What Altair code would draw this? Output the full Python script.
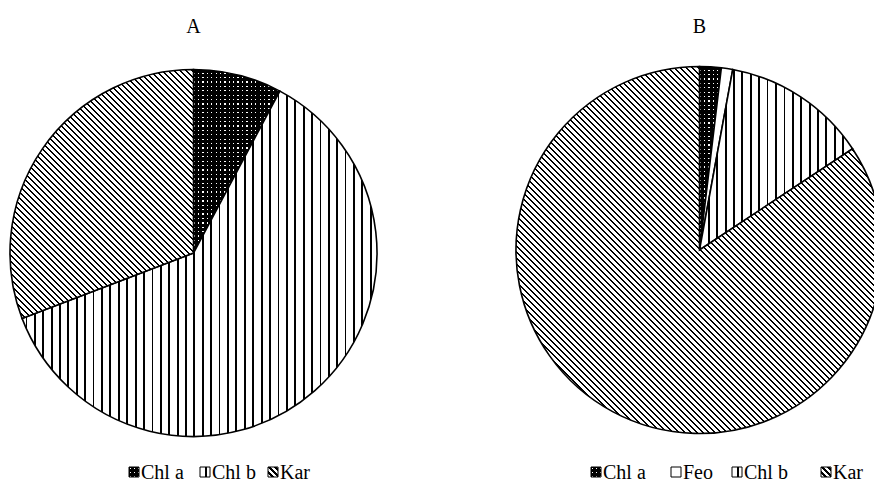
import math
import altair as alt
import pandas as pd

# ---------------- data ----------------
titles = ["A", "B"]
cats_a = ["Chl a", "Chl b", "Kar"]
vals_a = [7.8, 61.4, 30.8]
cats_b = ["Chl a", "Feo", "Chl b", "Kar"]
vals_b = [1.9, 1.0, 12.8, 84.3]

# ---------------- layout / style ----------------
FONT = "Liberation Serif"
W, H = 866, 481
R = 183.5
CENTERS = {"A": (185.5, 245.0), "B": (691.5, 242.0)}
TITLE_Y = 19
LEGEND_Y = 464
LEGEND_X = {"A": [126, 197, 265], "B": [588, 668, 729, 818]}

BLACK, WHITE, CLEAR = "#000000", "#ffffff", "rgba(0,0,0,0)"
VPER, VLINE = 8.4, 1.8      # vertical hatching
DPER, DLINE = 6.0, 2.4      # diagonal hatching (in x-y units)
GPER, GDOT = 4.4, 1.3       # dotted pattern grid


def band_stops(length, period, line, phase, c_line, c_bg):
    stops = [(0.0, c_bg)]
    k = math.floor((0 - phase) / period) - 1
    while True:
        a = phase + k * period
        if a > length:
            break
        b = a + line
        a2, b2 = max(a, 0.0), min(b, length)
        if b2 > a2:
            stops += [(a2, c_bg), (a2, c_line), (b2, c_line), (b2, c_bg)]
        k += 1
    stops.append((length, c_bg))
    return [{"offset": round(min(max(p / length, 0.0), 1.0), 5), "color": c}
            for p, c in stops]


def grad_vertical(bx, by, w, h, c_line=BLACK, c_bg=WHITE, period=VPER, line=VLINE):
    phase = (-bx) % period
    return {"gradient": "linear", "x1": 0, "y1": 0, "x2": 1, "y2": 0,
            "stops": band_stops(w, period, line, phase, c_line, c_bg)}


def grad_horizontal(bx, by, w, h, c_line=BLACK, c_bg=WHITE, period=GPER, line=GDOT):
    phase = (-by) % period
    return {"gradient": "linear", "x1": 0, "y1": 0, "x2": 0, "y2": 1,
            "stops": band_stops(h, period, line, phase, c_line, c_bg)}


def grad_diag(bx, by, w, h):
    c = (w + h) / (w * w + h * h)
    L = w + h
    phase = (h - bx + by) % DPER
    return {"gradient": "linear", "x1": 0, "y1": 1, "x2": c * w, "y2": 1 - c * h,
            "stops": band_stops(L, DPER, DLINE, phase, BLACK, WHITE)}


def fills_for(cat, bx, by, w, h):
    if cat == "Chl a":
        return [WHITE,
                grad_horizontal(bx, by, w, h, c_line=CLEAR, c_bg=BLACK),
                grad_vertical(bx, by, w, h, c_line=CLEAR, c_bg=BLACK, period=GPER, line=GDOT)]
    if cat == "Feo":
        return [WHITE]
    if cat == "Chl b":
        return [grad_vertical(bx, by, w, h)]
    return [grad_diag(bx, by, w, h)]


def sector_bbox(t0, t1, r):
    pts = [(0.0, 0.0), (r * math.sin(t0), -r * math.cos(t0)),
           (r * math.sin(t1), -r * math.cos(t1))]
    for q in range(5):
        t = q * math.pi / 2
        if t0 <= t <= t1:
            pts.append((r * math.sin(t), -r * math.cos(t)))
    xs = [p[0] for p in pts]
    ys = [p[1] for p in pts]
    return min(xs), min(ys), max(xs) - min(xs), max(ys) - min(ys)


def pie_layers(chart_id, cats, vals):
    cx, cy = CENTERS[chart_id]
    total = float(sum(vals))
    starts, ends, cum = [], [], 0.0
    for v in vals:
        starts.append(cum / total * 2 * math.pi)
        cum += v
        ends.append(cum / total * 2 * math.pi)
    df = pd.DataFrame({"cat": cats, "value": vals, "start": starts, "end": ends})
    layers = []
    for cat, t0, t1 in zip(cats, starts, ends):
        bx, by, w, h = sector_bbox(t0, t1, R)
        fills = fills_for(cat, bx, by, w, h)
        base = alt.Chart(df).transform_filter(alt.datum.cat == cat)
        for i, f in enumerate(fills):
            kw = dict(radius=R, fill=f)
            if i == len(fills) - 1:
                kw.update(stroke=BLACK, strokeWidth=1.6)
            layers.append(
                base.mark_arc(**kw).encode(
                    theta=alt.Theta("start:Q", scale=None),
                    theta2=alt.Theta2("end:Q"),
                    x=alt.value(cx), y=alt.value(cy)))
    return layers


def legend_layers(chart_id, cats):
    layers = []
    for cat, x in zip(cats, LEGEND_X[chart_id]):
        ldf = pd.DataFrame({"label": [cat]})
        fills = fills_for(cat, -5, -5, 10, 10)
        for i, f in enumerate(fills):
            kw = dict(size=100, fill=f, opacity=1, filled=True)
            if i == len(fills) - 1:
                kw.update(stroke=BLACK, strokeWidth=1)
            layers.append(alt.Chart(ldf).mark_square(**kw).encode(
                x=alt.value(x), y=alt.value(LEGEND_Y)))
        layers.append(alt.Chart(ldf).mark_text(
            align="left", baseline="middle", dx=7, font=FONT, fontSize=20, color=BLACK
        ).encode(text="label:N", x=alt.value(x), y=alt.value(LEGEND_Y + 1)))
    return layers


layers = []
layers += pie_layers("A", cats_a, vals_a)
layers += pie_layers("B", cats_b, vals_b)
layers += legend_layers("A", cats_a)
layers += legend_layers("B", cats_b)

tdf = pd.DataFrame({"t": titles})
for t in titles:
    layers.append(alt.Chart(tdf).transform_filter(alt.datum.t == t).mark_text(
        font=FONT, fontSize=20, color=BLACK, baseline="middle", align="center"
    ).encode(text="t:N", x=alt.value(CENTERS[t][0]), y=alt.value(TITLE_Y)))

chart = alt.layer(*layers).properties(
    width=W, height=H, padding=0,
    autosize=alt.AutoSizeParams(type="none"),
    background="white",
).configure_view(stroke=None)

chart.save("out.html", embed_options={"renderer": "svg", "actions": False})
